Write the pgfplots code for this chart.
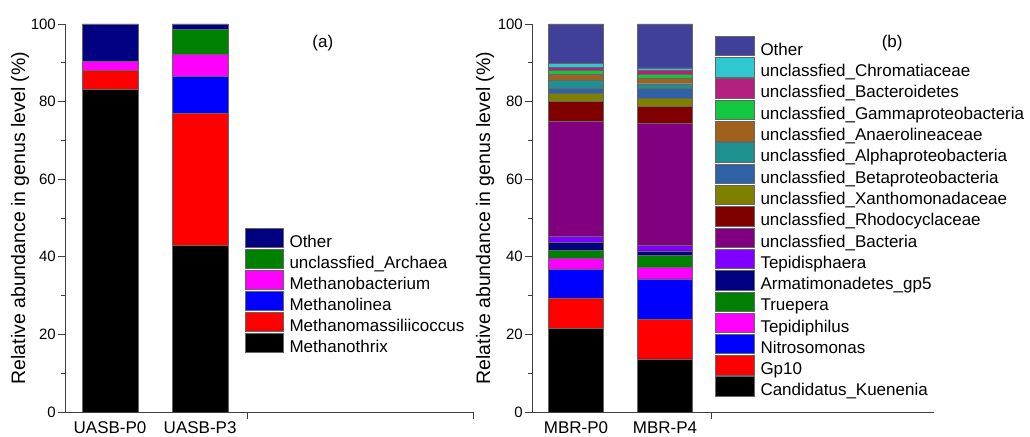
\documentclass[border=0pt]{standalone}
\usepackage{pgfplots}
\pgfplotsset{compat=1.18}
\usepackage{fontspec}
\setmainfont{Liberation Sans}
\definecolor{cRed}{HTML}{FF0000}
\definecolor{cBlue}{HTML}{0000FF}
\definecolor{cMag}{HTML}{FF00FF}
\definecolor{cNavy}{HTML}{000080}
\definecolor{cGreen}{HTML}{008000}
\definecolor{cViolet}{HTML}{8000FF}
\definecolor{cPurple}{HTML}{800080}
\definecolor{cMaroon}{HTML}{800000}
\definecolor{cOlive}{HTML}{808000}
\definecolor{cBeta}{HTML}{2E62A4}
\definecolor{cAlpha}{HTML}{1F9090}
\definecolor{cAnaero}{HTML}{A0601E}
\definecolor{cGamma}{HTML}{12C840}
\definecolor{cBactero}{HTML}{B42080}
\definecolor{cChrom}{HTML}{30C8D0}
\definecolor{cOther}{HTML}{40409A}
\pgfplotsset{
  common/.style={
    scale only axis,
    ybar stacked,
    ymin=0, ymax=100,
    axis lines*=left,
    axis line style={black!75, line width=0.6bp},
    ytick={0,20,...,100},
    minor ytick={10,30,...,90},
    tick align=outside,
    major tick length=7bp,
    minor tick length=4bp,
    tick style={black!75, line width=0.6bp},
    xtick={2.52,5.03},
    xticklabels={},
    /pgf/number format/assume math mode=true,
    yticklabel style={font=\fontsize{15bp}{18bp}\selectfont, inner sep=2bp},
    extra x tick labels={},
    ylabel={Relative abundance in genus level (\%)},
    ylabel style={font=\fontsize{19.5bp}{22bp}\selectfont, anchor=center},
    every axis plot/.append style={draw=black!60, line width=0.4bp},
    reverse legend,
    legend cell align=left,
    legend style={draw=none, fill=none, anchor=north west, inner sep=0pt,
      font=\fontsize{17bp}{20bp}\selectfont, column sep=6bp,
      nodes={inner sep=0pt}},
  },
}
\begin{document}
\begin{tikzpicture}
\path[use as bounding box] (0,0) rectangle (1030bp,437bp);
% ---------------- (a) ----------------
\begin{axis}[common,
  at={(65bp,25bp)}, anchor=south west,
  width=408bp, height=388bp,
  xmin=0.5, xmax=5.03,
  bar width=56bp,
  extra x ticks={1,2},
  extra x tick labels={UASB-P0,UASB-P3},
  extra x tick style={major tick length=0pt, xticklabel style={font=\fontsize{17bp}{20bp}\selectfont, yshift=-6bp}},
  ylabel style={at={(axis description cs:-0.11,0.5)}},
  legend style={at={(axis description cs:0.441,0.475)}, row sep=0bp},
  legend image code/.code={\draw[#1] (0bp,-5.6bp) rectangle (38bp,13.9bp);},
]
\addplot[fill=black] coordinates {(1,83.1) (2,42.9)};
\addlegendentry{Methanothrix}
\addplot[fill=cRed] coordinates {(1,5.0) (2,34.2)};
\addlegendentry{Methanomassiliicoccus}
\addplot[fill=cBlue] coordinates {(1,0) (2,9.4)};
\addlegendentry{Methanolinea}
\addplot[fill=cMag] coordinates {(1,2.4) (2,5.7)};
\addlegendentry{Methanobacterium}
\addplot[fill=cGreen] coordinates {(1,0) (2,6.5)};
\addlegendentry{unclassfied\_Archaea}
\addplot[fill=cNavy] coordinates {(1,9.5) (2,1.3)};
\addlegendentry{Other}
\node[font=\fontsize{17bp}{20bp}\selectfont] at (axis description cs:0.632,0.952) {(a)};
\end{axis}
% ---------------- (b) ----------------
\begin{axis}[common,
  at={(532bp,25bp)}, anchor=south west,
  width=402bp, height=388bp,
  xmin=0.506, xmax=5.02,
  bar width=55bp,
  extra x ticks={1,2},
  extra x tick labels={MBR-P0,MBR-P4},
  extra x tick style={major tick length=0pt, xticklabel style={font=\fontsize{17bp}{20bp}\selectfont, yshift=-6bp}},
  ylabel style={at={(axis description cs:-0.117,0.5)}},
  legend style={at={(axis description cs:0.455,0.97)}, row sep=0.3bp},
  legend image code/.code={\draw[#1] (0bp,-5.6bp) rectangle (39bp,13.9bp);},
]
\addplot[fill=black] coordinates {(1,21.5) (2,13.7)};
\addlegendentry{Candidatus\_Kuenenia}
\addplot[fill=cRed] coordinates {(1,7.9) (2,10.3)};
\addlegendentry{Gp10}
\addplot[fill=cBlue] coordinates {(1,7.3) (2,10.3)};
\addlegendentry{Nitrosomonas}
\addplot[fill=cMag] coordinates {(1,2.9) (2,3.0)};
\addlegendentry{Tepidiphilus}
\addplot[fill=cGreen] coordinates {(1,2.0) (2,3.0)};
\addlegendentry{Truepera}
\addplot[fill=cNavy] coordinates {(1,2.2) (2,1.2)};
\addlegendentry{Armatimonadetes\_gp5}
\addplot[fill=cViolet] coordinates {(1,1.4) (2,1.4)};
\addlegendentry{Tepidisphaera}
\addplot[fill=cPurple] coordinates {(1,29.8) (2,31.5)};
\addlegendentry{unclassfied\_Bacteria}
\addplot[fill=cMaroon] coordinates {(1,5.0) (2,4.3)};
\addlegendentry{unclassfied\_Rhodocyclaceae}
\addplot[fill=cOlive] coordinates {(1,2.1) (2,2.1)};
\addlegendentry{unclassfied\_Xanthomonadaceae}
\addplot[fill=cBeta] coordinates {(1,1.3) (2,2.6)};
\addlegendentry{unclassfied\_Betaproteobacteria}
\addplot[fill=cAlpha] coordinates {(1,2.2) (2,1.2)};
\addlegendentry{unclassfied\_Alphaproteobacteria}
\addplot[fill=cAnaero] coordinates {(1,1.4) (2,1.5)};
\addlegendentry{unclassfied\_Anaerolineaceae}
\addplot[fill=cGamma] coordinates {(1,1.0) (2,1.0)};
\addlegendentry{unclassfied\_Gammaproteobacteria}
\addplot[fill=cBactero] coordinates {(1,0.8) (2,0.9)};
\addlegendentry{unclassfied\_Bacteroidetes}
\addplot[fill=cChrom] coordinates {(1,1.0) (2,0.7)};
\addlegendentry{unclassfied\_Chromatiaceae}
\addplot[fill=cOther] coordinates {(1,10.2) (2,11.3)};
\addlegendentry{Other}
\node[font=\fontsize{17bp}{20bp}\selectfont] at (axis description cs:0.896,0.952) {(b)};
\end{axis}
\end{tikzpicture}
\end{document}
